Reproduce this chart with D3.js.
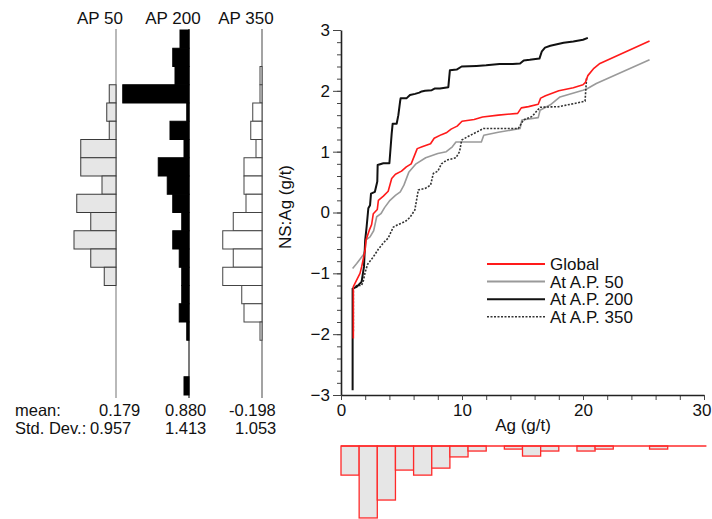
<!DOCTYPE html>
<html>
<head>
<meta charset="utf-8">
<script src="https://cdn.jsdelivr.net/npm/d3@7"></script>
<style>
  body { margin: 0; background: #fff; }
  svg text { font-family: 'Liberation Sans', Arial, sans-serif; fill: #111; }
</style>
</head>
<body>
<svg width="712" height="519"></svg>
<script>
// normal-score bin edges for the side histograms (top edge of each bin)
const nsBinTops = [3.0, 2.7, 2.4, 2.1, 1.8, 1.5, 1.2, 0.9, 0.6, 0.3, 0.0, -0.3, -0.6, -0.9, -1.2, -1.5, -1.8, -2.1, -2.4, -2.7];
const nsBinWidth = 0.3;

// frequencies (%) per bin, null = outside of data range
const ap50Freq = [null, 0, 0, 2.7, 3.7, 2.7, 14.1, 14.1, 5.6, 15.7, 10.1, 16.8, 10.1, 4.7, 0, 0, 0, null, null, null];
const ap200Freq = [3.6, 6.5, 5.6, 26.5, 0.9, 7.6, 2.0, 12.3, 8.7, 6.5, 2.9, 6.5, 3.9, 2.9, 2.9, 3.9, 0.9, 0, 0, 2.0];
const ap350Freq = [null, null, 0.8, 0.8, 3.7, 4.5, 2.4, 7.2, 7.2, 6.4, 11.5, 15.7, 11.5, 15.7, 8.1, 7.2, 0.8, null, null, null];

const histTitles = ['AP 50', 'AP 200', 'AP 350'];
const statMeans = ['0.179', '0.880', '-0.198'];
const statStds = ['0.957', '1.413', '1.053'];

// Ag histogram (bins of 1.5 g/t), frequencies in %
const agBinStarts = [0, 1.5, 3, 4.5, 6, 7.5, 9, 10.5, 12, 13.5, 15, 16.5, 18, 19.5, 21, 22.5, 24, 25.5];
const agBinWidth = 1.5;
const agFreq = [10.4, 25.7, 19.3, 8.6, 10.4, 7.9, 3.9, 1.8, 0, 1.1, 3.6, 1.8, 0, 1.8, 1.1, 0, 0, 1.1];

// curves: [Ag (g/t), NS:Ag]
const globalCurve = [[1.02,-2.07],[1.02,-1.22],[1.57,-1.0],[1.71,-0.89],[1.99,-0.62],[2.07,-0.45],[2.34,-0.29],[2.53,-0.2],[2.67,-0.02],[3.0,0.05],[3.09,0.2],[3.5,0.27],[3.9,0.35],[4.19,0.56],[4.5,0.63],[5.0,0.68],[5.4,0.75],[5.8,0.8],[6.3,1.05],[6.7,1.08],[7.4,1.13],[7.7,1.22],[8.3,1.28],[8.7,1.31],[9.1,1.37],[9.6,1.42],[10.0,1.5],[11.0,1.53],[11.7,1.57],[13.0,1.6],[14.6,1.63],[14.9,1.72],[15.5,1.74],[16.3,1.78],[16.5,1.88],[16.9,1.92],[18.0,2.0],[19.2,2.05],[20.0,2.1],[20.2,2.14],[20.4,2.25],[20.9,2.37],[21.4,2.45],[25.5,2.82]];
const ap50Curve = [[0.96,-0.92],[1.3,-0.84],[1.6,-0.76],[1.9,-0.68],[2.0,-0.6],[2.07,-0.45],[2.4,-0.4],[2.7,-0.3],[2.95,-0.07],[3.3,-0.02],[3.6,0.08],[4.05,0.2],[4.5,0.28],[4.9,0.34],[5.2,0.45],[5.6,0.66],[6.2,0.8],[7.0,0.9],[8.0,0.97],[8.7,1.0],[9.2,1.08],[9.5,1.16],[11.6,1.16],[11.8,1.27],[13.0,1.32],[14.8,1.38],[14.95,1.52],[16.3,1.56],[16.45,1.68],[17.3,1.77],[18.1,1.9],[20.0,2.01],[20.3,2.03],[21.1,2.12],[25.5,2.51]];
const ap200Curve = [[0.96,-2.92],[0.96,-1.25],[1.3,-1.22],[1.7,-1.14],[1.9,-0.89],[2.0,-0.45],[2.12,-0.23],[2.26,0.07],[2.4,0.12],[2.48,0.31],[2.8,0.34],[3.0,0.51],[3.03,0.78],[3.5,0.81],[4.0,0.81],[4.19,1.3],[4.27,1.46],[4.6,1.46],[4.74,1.6],[4.88,1.82],[4.93,1.88],[5.43,1.88],[5.7,1.93],[6.12,1.95],[6.47,1.97],[6.67,1.99],[6.94,2.0],[7.5,2.01],[7.77,2.04],[8.18,2.04],[8.87,2.06],[9.0,2.34],[9.56,2.35],[9.97,2.4],[11.2,2.41],[12.0,2.42],[13.1,2.44],[14.2,2.44],[14.8,2.45],[15.1,2.5],[15.6,2.51],[16.4,2.53],[16.6,2.65],[16.86,2.71],[17.3,2.74],[18.4,2.79],[19.2,2.81],[20.0,2.84],[20.4,2.87]];
const ap350Curve = [[1.02,-1.95],[1.02,-1.25],[1.3,-1.2],[1.7,-1.2],[1.85,-1.12],[2.0,-0.98],[2.2,-0.85],[2.67,-0.73],[3.1,-0.6],[3.5,-0.5],[3.9,-0.42],[4.32,-0.24],[4.7,-0.2],[5.3,-0.15],[5.7,-0.08],[6.1,0.04],[6.39,0.37],[7.0,0.4],[7.4,0.45],[7.63,0.64],[8.0,0.68],[8.3,0.8],[8.73,0.86],[9.5,0.9],[9.8,1.0],[9.97,1.19],[10.5,1.25],[11.2,1.32],[11.77,1.38],[14.65,1.38],[15.07,1.52],[15.8,1.58],[16.45,1.73],[18.0,1.74],[19.5,1.8],[20.17,1.83],[20.3,2.22]];

const curveNames = ['Global', 'At A.P. 50', 'At A.P. 200', 'At A.P. 350'];

// settings
const config = {
  plot: { left: 341, right: 704, top: 30, bottom: 395 },
  hist: { baselines: [116, 189, 262], pxPerPct: 2.5 },
  agHist: { top: 446, pxPerPct: 2.8 },
};

const styles = [
  { stroke: '#ff1a1a', width: 1.6, dash: null },
  { stroke: '#9a9a9a', width: 1.6, dash: null },
  { stroke: '#111', width: 2, dash: null },
  { stroke: '#333', width: 1.6, dash: '2,1.5' },
];
const histStyles = [
  { fill: '#e6e6e6', stroke: '#3a3a3a', base: '#8a8a8a' },
  { fill: '#000', stroke: '#000', base: '#222' },
  { fill: '#fff', stroke: '#444', base: '#666' },
];

const svg = d3.select('svg');

const x = d3.scaleLinear().domain([0, 30]).range([config.plot.left, config.plot.right]);
const y = d3.scaleLinear().domain([-3, 3]).range([config.plot.bottom, config.plot.top]);

// ---- side histograms ----
[ap50Freq, ap200Freq, ap350Freq].forEach((freq, i) => {
  const base = config.hist.baselines[i];
  const st = histStyles[i];
  const w = d3.scaleLinear().domain([0, 1]).range([0, config.hist.pxPerPct]);
  const g = svg.append('g');

  g.append('line')
    .attr('x1', base).attr('x2', base)
    .attr('y1', y(3) - 1).attr('y2', y(-3) + 3)
    .attr('stroke', st.base).attr('stroke-width', 1.2);

  const bins = nsBinTops.map((t, k) => ({ top: t, f: freq[k] })).filter(d => d.f !== null);
  g.selectAll('rect').data(bins).enter().append('rect')
    .attr('x', d => base - w(d.f))
    .attr('y', d => y(d.top))
    .attr('width', d => w(d.f))
    .attr('height', d => y(d.top - nsBinWidth) - y(d.top))
    .attr('fill', st.fill)
    .attr('stroke', st.stroke)
    .attr('stroke-width', 1);

  svg.append('text')
    .attr('x', base - 16).attr('y', 24)
    .attr('text-anchor', 'middle')
    .attr('font-size', 17)
    .text(histTitles[i]);
});

// stats
svg.append('text').attr('x', 15).attr('y', 416).attr('font-size', 16.5).text('mean:');
svg.append('text').attr('x', 15).attr('y', 434).attr('font-size', 16.5).text('Std. Dev.:');
const meanX = [99, 165, 229];
const stdX = [90, 165, 235];
statMeans.forEach((m, i) => svg.append('text').attr('x', meanX[i]).attr('y', 416).attr('font-size', 16.5).text(m));
statStds.forEach((s, i) => svg.append('text').attr('x', stdX[i]).attr('y', 434).attr('font-size', 16.5).text(s));

// ---- main plot axes ----
const yMinor = svg.append('g')
  .attr('transform', `translate(${config.plot.left},0)`)
  .call(d3.axisLeft(y).tickValues(d3.range(-3, 3.001, 0.2)).tickSize(4).tickFormat(''));
yMinor.select('.domain').remove();

const yAxis = svg.append('g')
  .attr('transform', `translate(${config.plot.left},0)`)
  .call(d3.axisLeft(y).tickValues([-3, -2, -1, 0, 1, 2, 3]).tickSize(8).tickSizeOuter(0).tickPadding(3).tickFormat(d3.format('d')));
yAxis.selectAll('text').attr('font-size', 17).attr('font-family', "'Liberation Sans', Arial, sans-serif").attr('fill', '#111');

const xMinor = svg.append('g')
  .attr('transform', `translate(0,${config.plot.bottom})`)
  .call(d3.axisBottom(x).tickValues(d3.range(0, 30.001, 2)).tickSize(5).tickFormat(''));
xMinor.select('.domain').remove();

const xAxis = svg.append('g')
  .attr('transform', `translate(0,${config.plot.bottom})`)
  .call(d3.axisBottom(x).tickValues([0, 10, 20, 30]).tickSize(5).tickSizeOuter(0).tickPadding(4));
xAxis.selectAll('text').attr('font-size', 17).attr('font-family', "'Liberation Sans', Arial, sans-serif").attr('fill', '#111');
// keep the last label inside the picture
xAxis.selectAll('text').filter(d => d === 30).attr('text-anchor', 'end').attr('dx', 7);

svg.selectAll('.domain').attr('stroke', '#222').attr('stroke-width', 1.6);
svg.selectAll('.tick line').attr('stroke', '#444');

svg.append('text')
  .attr('transform', 'translate(291,207) rotate(-90)')
  .attr('text-anchor', 'middle')
  .attr('font-size', 17)
  .text('NS:Ag (g/t)');

svg.append('text')
  .attr('x', 523).attr('y', 431)
  .attr('text-anchor', 'middle')
  .attr('font-size', 17)
  .text('Ag (g/t)');

// ---- curves ----
const line = d3.line().x(d => x(d[0])).y(d => y(d[1]));
const curves = [globalCurve, ap50Curve, ap200Curve, ap350Curve];
// draw order: grey, dotted, black, red on top
[1, 3, 2, 0].forEach(i => {
  svg.append('path')
    .datum(curves[i])
    .attr('d', line)
    .attr('fill', 'none')
    .attr('stroke', styles[i].stroke)
    .attr('stroke-width', styles[i].width)
    .attr('stroke-dasharray', styles[i].dash)
    .attr('stroke-linejoin', 'round');
});

// legend
const legend = svg.append('g').attr('transform', 'translate(487,264)');
curveNames.forEach((name, i) => {
  const row = legend.append('g').attr('transform', `translate(0,${i * 17.6})`);
  row.append('line')
    .attr('x1', 0).attr('x2', 58)
    .attr('stroke', styles[i].stroke)
    .attr('stroke-width', i === 3 ? 1.6 : 2)
    .attr('stroke-dasharray', styles[i].dash);
  row.append('text')
    .attr('x', 63).attr('y', 6)
    .attr('font-size', 17)
    .text(name);
});

// ---- Ag histogram below ----
const h = d3.scaleLinear().domain([0, 1]).range([0, config.agHist.pxPerPct]);
const agG = svg.append('g');
agG.selectAll('rect').data(agBinStarts.map((s, k) => ({ s, f: agFreq[k] }))).enter().append('rect')
  .attr('x', d => x(d.s))
  .attr('y', config.agHist.top)
  .attr('width', d => x(d.s + agBinWidth) - x(d.s))
  .attr('height', d => h(d.f))
  .attr('fill', '#e6e6e6')
  .attr('stroke', '#ff2a2a')
  .attr('stroke-width', 1.3);
agG.append('line')
  .attr('x1', x(0)).attr('x2', x(30.2))
  .attr('y1', config.agHist.top).attr('y2', config.agHist.top)
  .attr('stroke', '#ff2a2a').attr('stroke-width', 1.3);
</script>
</body>
</html>
